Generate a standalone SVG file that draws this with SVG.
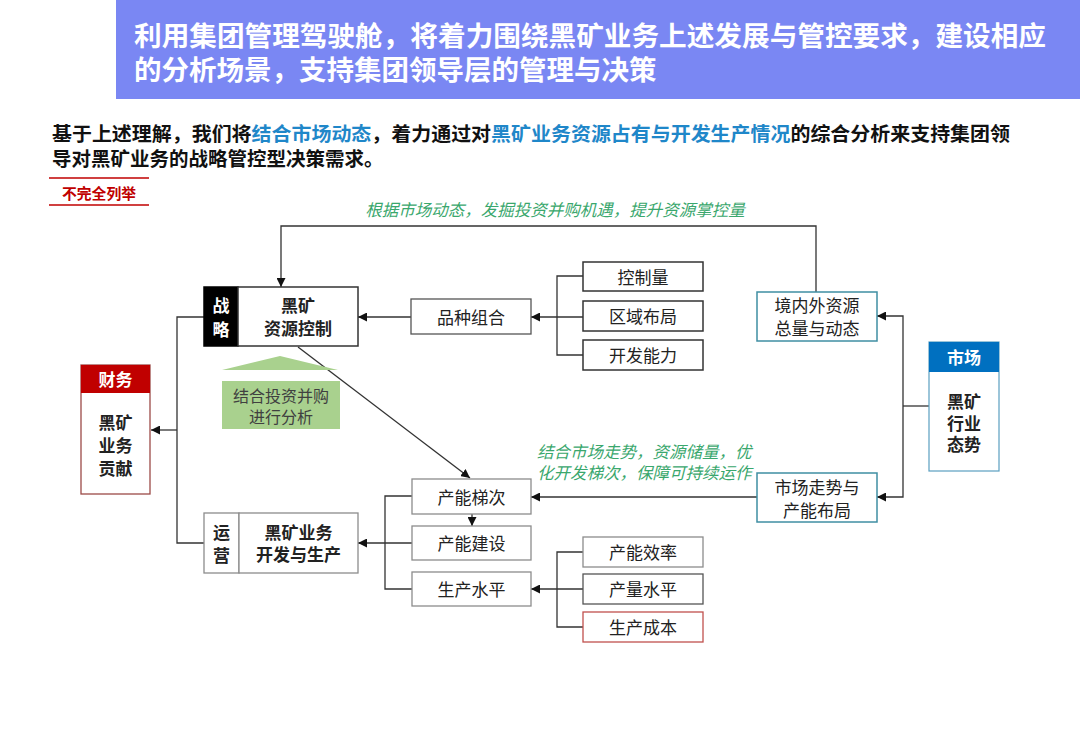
<svg xmlns="http://www.w3.org/2000/svg" width="1080" height="748" viewBox="0 0 1080 748">
<style>
text{font-family:"Liberation Sans","Noto Sans CJK SC",sans-serif;}
.t{font-size:17px;fill:#222;text-anchor:middle;dominant-baseline:central;transform:translateY(1.5px);}
.b{font-weight:700;}
.w{fill:#fff;}
.g{font-size:16.5px;fill:#3AA76D;font-style:italic;}
.box{fill:#fff;stroke:#333;stroke-width:1.5;}
.gbox{fill:#fff;stroke:#8c8c8c;stroke-width:1.3;}
.tbox{fill:#fff;stroke:#3f8ea3;stroke-width:1.5;}
.ln{fill:none;stroke:#333;stroke-width:1.3;}
.ar{marker-end:url(#ah);}
</style>
<defs>
<marker id="ah" viewBox="0 0 10 10" refX="10" refY="5" markerWidth="9" markerHeight="9" markerUnits="userSpaceOnUse" orient="auto">
<path d="M0,0 L10,5 L0,10 Z" fill="#111"/>
</marker>
</defs>
<rect width="1080" height="748" fill="#fff"/>
<g id="header">
<rect x="116" y="0" width="964" height="99" fill="#7A87F3"/>
<text x="134" y="46" font-size="27.5" font-weight="700" fill="#fff" textLength="912" lengthAdjust="spacingAndGlyphs">利用集团管理驾驶舱，将着力围绕黑矿业务上述发展与管控要求，建设相应</text>
<text x="134" y="80" font-size="27.5" font-weight="700" fill="#fff">的分析场景，支持集团领导层的管理与决策</text>
</g>
<g id="subtitle">
<text x="52" y="141" font-size="19.5" font-weight="700" fill="#111" textLength="958" lengthAdjust="spacingAndGlyphs">基于上述理解，我们将<tspan fill="#1F87C9">结合市场动态</tspan>，着力通过对<tspan fill="#1F87C9">黑矿业务资源占有与开发生产情况</tspan>的综合分析来支持集团领</text>
<text x="52" y="166" font-size="19.5" font-weight="700" fill="#111">导对黑矿业务的战略管控型决策需求。</text>
</g>
<g id="tag">
<line x1="49" y1="178" x2="149" y2="178" stroke="#C00000" stroke-width="1.5"/>
<line x1="49" y1="205" x2="149" y2="205" stroke="#C00000" stroke-width="1.5"/>
<text x="99" y="193.5" font-size="14.8" font-weight="700" fill="#C00000" text-anchor="middle" dominant-baseline="central">不完全列举</text>
</g>
<g id="connectors">
<path class="ln ar" d="M816,292 V226 H281 V287"/>
<path class="ln ar" d="M411,317 H358"/>
<path class="ln" d="M583,276 H557 V355 H583"/>
<path class="ln ar" d="M583,317 H531"/>
<path class="ln" d="M204,317 H177 V543 H204"/>
<path class="ln ar" d="M177,430 H151"/>
<path class="ln" d="M929,406 H903"/>
<path class="ln ar" d="M903,406 V316 H877"/>
<path class="ln ar" d="M903,406 V497 H877"/>
<path class="ln ar" d="M757,497 H531"/>
<path class="ln ar" d="M298,347 L470,478"/>
<path class="ln ar" d="M472,514 V526"/>
<path class="ln" d="M412,496 H385 V589 H412"/>
<path class="ln ar" d="M412,543 H358"/>
<path class="ln" d="M583,552 H557 V627 H583"/>
<path class="ln ar" d="M583,589 H531"/>
</g>
<g id="label-top">
<text class="g" x="555" y="216" text-anchor="middle">根据市场动态，发掘投资并购机遇，提升资源掌控量</text>
</g>
<g id="label-mid">
<text class="g" x="537" y="458">结合市场走势，资源储量，优<tspan x="537" dy="21">化开发梯次，保障可持续运作</tspan></text>
</g>
<g id="node-strategy">
<rect x="204" y="287" width="34" height="59" fill="#000" stroke="#000" stroke-width="1.5"/>
<rect class="box" x="238" y="287" width="120" height="59"/>
<text class="t b w" x="221" y="305">战<tspan x="221" dy="23">略</tspan></text>
<text class="t b" x="298" y="305">黑矿<tspan x="298" dy="22">资源控制</tspan></text>
</g>
<g id="node-invest">
<polygon points="222,370 280,356 338,370" fill="#A9D18E"/>
<rect x="222" y="381" width="118" height="48" fill="#A9D18E"/>
<text class="t" x="281" y="395" style="fill:#404040;font-size:16px">结合投资并购<tspan x="281" dy="20">进行分析</tspan></text>
</g>
<g id="node-variety">
<rect class="gbox" x="411" y="299" width="120" height="35" style="stroke:#555"/>
<text class="t" x="471" y="316.5">品种组合</text>
</g>
<g id="node-control">
<rect class="box" x="583" y="262" width="120" height="29"/>
<text class="t" x="643" y="276.5">控制量</text>
</g>
<g id="node-region">
<rect class="box" x="583" y="301" width="120" height="30"/>
<text class="t" x="643" y="316">区域布局</text>
</g>
<g id="node-devcap">
<rect class="box" x="583" y="340" width="120" height="30"/>
<text class="t" x="643" y="355">开发能力</text>
</g>
<g id="node-resource">
<rect class="tbox" x="757" y="292" width="120" height="49"/>
<text class="t" x="817" y="305">境内外资源<tspan x="817" dy="22">总量与动态</tspan></text>
</g>
<g id="node-market">
<rect class="tbox" x="929" y="342" width="70" height="129" style="stroke:#5a9fc0;stroke-width:1.2"/>
<rect x="929" y="342" width="70" height="30" fill="#0070C0"/>
<text class="t b w" x="964" y="357">市场</text>
<text class="t b" x="964" y="401">黑矿<tspan x="964" dy="21">行业</tspan><tspan x="964" dy="21">态势</tspan></text>
</g>
<g id="node-trend">
<rect class="tbox" x="757" y="473" width="120" height="49"/>
<text class="t" x="817" y="487">市场走势与<tspan x="817" dy="22">产能布局</tspan></text>
</g>
<g id="node-finance">
<rect x="81" y="365" width="69" height="129" fill="#fff" stroke="#9C4A48" stroke-width="1.3"/>
<rect x="81" y="365" width="69" height="28" fill="#C00000"/>
<text class="t b w" x="115.5" y="379">财务</text>
<text class="t b" x="115.5" y="422">黑矿<tspan x="115.5" dy="22.5">业务</tspan><tspan x="115.5" dy="22.5">贡献</tspan></text>
</g>
<g id="node-operation">
<rect class="gbox" x="204" y="513" width="35" height="60"/>
<rect class="gbox" x="239" y="513" width="119" height="60"/>
<text class="t b" x="221.5" y="532">运<tspan x="221.5" dy="22">营</tspan></text>
<text class="t b" x="298.5" y="532">黑矿业务<tspan x="298.5" dy="21">开发与生产</tspan></text>
</g>
<g id="node-tier">
<rect class="gbox" x="412" y="479" width="119" height="35"/>
<text class="t" x="471.5" y="496.5">产能梯次</text>
</g>
<g id="node-build">
<rect class="gbox" x="412" y="526" width="119" height="34"/>
<text class="t" x="471.5" y="543">产能建设</text>
</g>
<g id="node-level">
<rect class="gbox" x="412" y="572" width="119" height="34"/>
<text class="t" x="471.5" y="589">生产水平</text>
</g>
<g id="node-efficiency">
<rect class="gbox" x="583" y="537" width="120" height="30"/>
<text class="t" x="643" y="552">产能效率</text>
</g>
<g id="node-output">
<rect class="gbox" x="583" y="574" width="120" height="30" style="stroke:#555"/>
<text class="t" x="643" y="589">产量水平</text>
</g>
<g id="node-cost">
<rect class="gbox" x="583" y="612" width="120" height="30" style="stroke:#C0504D"/>
<text class="t" x="643" y="627">生产成本</text>
</g>
</svg>
